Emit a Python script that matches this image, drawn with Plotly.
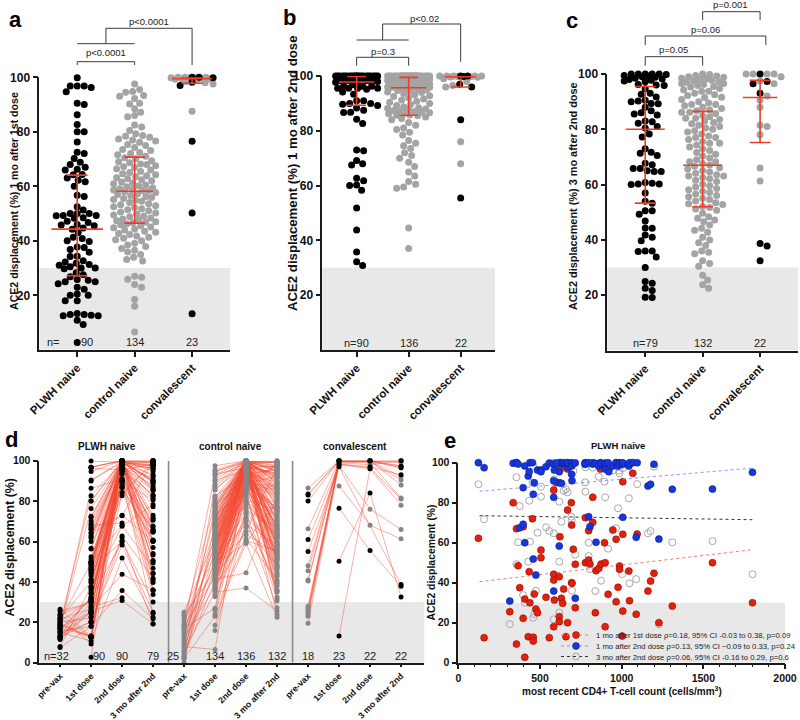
import math
import plotly.graph_objects as go

# ------------------------------------------------------------------ data
GROUPS = ["PLWH naive", "control naive", "convalescent"]
TIMEPOINTS = ["pre-vax", "1st dose", "2nd dose", "3 mo after 2nd"]

# PLWH naive participants: CD4 count and ACE2 displacement (%) at each time point
plwh_cd4 = [123, 158, 315, 336, 356, 356, 366, 376, 397, 397, 407, 407, 428, 434, 438, 454, 459, 459, 465, 475,
            485, 506, 506, 537, 557, 584, 584, 584, 584, 588, 618, 618, 618, 622, 624, 631, 639, 645, 659, 669,
            669, 669, 692, 694, 694, 696, 704, 716, 716, 776, 778, 778, 798, 798, 806, 823, 823, 839, 843, 860,
            870, 874, 895, 899, 899, 917, 921, 946, 966, 966, 978, 987, 987, 1003, 1007, 1007, 1007, 1044, 1048, 1068,
            1089, 1095, 1161, 1177, 1198, 1228, 1310, 1556, 1801, 600]
plwh_v1 = [62.2, 12.5, 25.5, 80, 67, 9.3, 48.5, 37.5, 68, 22.2, 31.8, 2.7, 13, 45.5, 30, 72, 12.7, 10.8, 34.3, 26.8,
           25, 56.3, 52.5, 32.7, 12.5, 86.3, 44.2, 41.3, 18, 31.3, 43, 23, 20.5, 63, 96.8, 32.2, 29.7, 36.8, 13, 20,
           76.3, 96.8, 80, 68.8, 40, 39.7, 56.7, 49.2, 27.5, 99.8, 72.5, 50, 51.3, 66, 49.3, 82.7, 70.2, 25, 46, 47.2,
           96.8, 49.3, 60, 50, 18, 34.2, 96.3, 66.3, 61.7, 30.5, 37.7, 48.3, 46.7, 13.3, 64.2, 90.5, 25.8, 45.8, 31, 94.7,
           24.2, 64.3, 35.8, 40.8, 44.7, 20, 28.3, 50, 30, 90]
plwh_v2 = [100, 97.5, 30.8, 99.7, 100, 100, 99.3, 67.5, 69.2, 87.5, 60, 98.3, 93.3, 95.5, 100, 100, 84.2, 51.8, 90, 43.8,
           96.3, 96.3, 95.5, 98, 99.8, 91, 82.7, 99.3, 35.8, 96.3, 95.5, 90, 58.3, 100, 100, 89.7, 99.5, 100, 99.7, 97.7,
           99.7, 100, 100, 98.3, 94.2, 91, 99.6, 99.9, 32.2, 99.2, 100, 99.4, 100, 73, 68, 99.3, 100, 99.7, 60.2, 98.3,
           100, 99.5, 99.2, 96.8, 99.8, 100, 95.5, 98.3, 100, 100, 98.3, 100, 99.6, 99.7, 72.7, 99.2, 99.9, 98.3, 100, 100,
           62.7, 100, 88.3, 89.2, 99.2, 61.8, 86.7, 86.8, 95.2, 99.8]
plwh_v3 = [89.2, 71.7, 19.3, None, 92.7, 49.3, 60.2, 78.3, None, 33.8, 30, None, 50.5, 81, 60.5, 90, 98.5, 22.5, 24.3, 36,
           65, 88, 83, 67.7, 65.8, 64.7, 100, 99.3, 21.7, 91.7, 50.5, 80.5, 25, 99, 100, 70.5, None, 86, 86.7, 85.2,
           98.8, 100, 73, 71.3, None, 36, 95.8, 54, None, 90.2, 85.5, 97.7, 53.3, 60, 46.8, 97.5, 99.5, 35.8, None, 93,
           100, 41, 90.5, 82.7, None, 57, 98.2, 96.2, 67.2, None, 77.2, 94.7, 96, 44.3, 99.8, 97.2, None, 82.2, 39.7, 100,
           41.8, 89.3, 64.7, 65.8, 98, 19.2, 60.2, 60.8, 44.2, None]
plwh_pre_ids = [1, 2, 5, 7, 9, 10, 12, 14, 16, 17, 19, 20, 23, 24, 25, 28, 29, 32, 35, 36, 38, 39, 40, 44, 48, 55,
                57, 61, 64, 69, 73, 76]
plwh_pre = [18.5, 13, 22.5, 8, 20, 16.5, 26.5, 12.5, 19, 15, 21.5, 17.5, 13.5, 24, 18, 7.5,
            20.5, 12.5, 16, 25.5, 19.5, 14.5, 17, 22, 13, 18.5, 11.5, 21, 15.5, 23.5, 17, 12]

# control naive participants
ctrl_v1 = [97.5, 95.5, 94.8, 94.5, 93.3, 93, 92.2, 90.5, 90.2, 88.5, 87.2, 86, 85.5, 82.5, 81.8, 80.5, 79.3, 78.6, 78.4, 78,
           77.4, 77, 76.6, 76.2, 75.3, 75, 74.2, 73.5, 73.1, 72.4, 72, 71.6, 71, None,
           70.5, 70.1, 69.4, 69, 68.6, 68.2, 68, 67.5, 67.2, 66.9, 66.4, 66, 65.4, 65.1, 64.6, 64.2, 63.9, 63.5, 63.1, 62.8,
           62.4, 62, 61.6, 61.2, 60.9, 60.5, 60.1, 59.8, 59.5, 59.1, 58.8, 58.6, 58.4, 58.3,
           58, 57.7, 57.3, 57, 56.6, 56.2, 55.9, 55.5, 55.2, 54.9, 54.5, 54.1, 53.6, 53.2, 52.9, 52.5, 52.2, 51.8, 51.4, 51,
           50.6, 50.2, 49.8, 49.5, 49.1, 48.8, 48.4, 48, 47.7, 47.4, 47, 46.8, 46.6, None,
           46.2, 45.9, 45.5, 45.1, 44.8, 44.3, 44, 43.5, 43.1, 42.7, 42.3, 41.8, 41.3, 40.9, 40.4, 40, 39.1, 38.5, 37.9, 37.2,
           36.5, 35.9, 35, 34, 33.1, 32.6, 27, 26.6, 25.9, 24, 23, 18.5, 16, 6.5]
ctrl_v2 = [100, 100, 99.2, 100, 96.5, 100, 98.8, 100, 95.5, 100, 100, 97.8, 100, 92.8, 100, 99.8, 98.5, 100, 88.8, 100,
           96.9, 100, 99.4, 100, 94.4, 100, 97.4, 100, 85.5, 99.6, 100, 96.1, 100, 98.2,
           100, 99.1, 100, 93.6, 96.8, 100, 90.4, 99.7, 97.2, 100, 86.8, 98.6, 100, 95.9, 100, 91.6, 96.3, 100, 82, 99.3,
           100, 87.4, 97.5, 100, 78.5, 99, 96, 100, 94, 95.8, 100, 89.2, 99.6, 86.2,
           100, 97, 95.7, 92, 98.4, 84.5, 96.6, 88, 99, 95.9, 73.5, 97.7, 91.2, 96.2, 87.8, 68.5, 98, 95.8, 86.6, 80.5,
           96.4, 89.6, 95.2, 63.5, 85.8, 96, 59.5, 100, 93.2, 87, 99.8, 90.8, 76.5, 95.7,
           99.5, 95, 87.2, 79.5, 94.7, 85.7, 72, 98, 90, 65, 97, 83, 44.5, 92.5, 88.4, 71, 96.9, 84, 61.5, 99.2,
           86.4, 74.5, 37, 94.2, 81, 67, 96.6, 88.2, 60.5, 85, 59, 75.5, 70, 96.2]
ctrl_v3 = [98.8, 86.2, 99.5, 77, 93.8, 69.6, 96.6, None, 84, 90, 97.7, 61.6, 88.5, 75, 95.3, 82.5, 100, 56.6, 92.2, 80,
           66.6, 99, 73.6, 87, 54.1, 94.3, 79.5, 63.1, 98.2, 48.4, 85, 71, 91.5, 58.6,
           97.2, 83.5, 64.6, 95.8, 51.2, 89.5, 76.3, 99.8, 60.1, 81.5, 45.4, 93, 70.3, 86.7, 57.1, None, 97.5, 66.1, 42.8, 84.5,
           74.3, 98.5, 52.8, 89, 62.6, 38, 81, 96.2, 67.6, 55.6, 77.6, 47.2, 90.8, 59.6,
           94.8, 65.6, 85.7, 53.4, 99.3, 72.3, 44.2, 88, 61.1, 79, 36, 96.6, 68.3, 50.7, 83, 58.1, 92.5, None, 63.6, 75.6,
           46.6, 98, 71.6, 54.6, 87.5, 40, 80.5, 57.6, 95.5, 65.1, 31.5, 84, 52.1, 69,
           91.6, 49.6, 78.3, 62.1, 35, 86.2, 56.1, 73, 43.5, 97, 64.1, 30.5, 82, 51.7, 68.3, 27.2, 93.8, 59.1, 41, None,
           77, 53.1, 25.5, 89, 63.1, 47.8, 35.5, 75, 55.1, 23.8, 22.5, 67.1, 39, 32.5]
ctrl_pre_ids = [4, 10, 16, 22, 28, 38, 44, 50, 56, 62, 68, 74, 80, 86, 92, 98, 104, 108, 112, 116, 120, 124, 128, 132, 135]
ctrl_pre = [17.5, 3, 22, 9, 14, 0, 19, 5.5, 25, 11.5, 16, 2.5, 20.5, 7, 15, 4.5, 23.5, 10.5, 18.5, 3.5, 12.5, 6, 17, 2, 8]

# convalescent participants (1 = living with HIV, drawn black; 0 = control, drawn grey)
conv_plwh = [1, 1, 1, 1, 1, 1, 1, 1, 0, 0, 0, 0, 0, 0, 0, 0, 0, 0, 0, 0, 0, 0, 0]
conv_pre = [83.5, 83, 80, 61, 55, None, None, None, 86.5, 66.3, 48, 45.5, 41, 40.5, 28, 27, 26, 25, 24, 23, 19.5, None, None]
conv_v1 = [100, 100, 99.8, 98.2, 97, 76.5, 50.2, 13.2, 100, 100, 100, 99.8, 99.8, 99.7, 99.6, 99.5, 99.5, 99.3, 99, 98.5, 98, 97.5, 87.5]
conv_v2 = [100, 99.8, 100, 97, None, 55.5, 84, 96, 100, 100, 99.8, 100, 99.7, 100, 99.6, 99.5, 100, 99, 98, 96.5, 96, 76, 68]
conv_v3 = [100, 97.3, 96.5, 93, 38.7, 37.8, 32.5, None, 100, 99, 97.5, 100, 96.5, 92, 100, 90.5, 88, 81.5, 100, 81, 78, 66, 61.3]

# medians and interquartile ranges shown in panels a-c (PLWH, control, convalescent)
med_a, q1_a, q3_a = [44.3, 58.2, 99.5], [27.2, 46.5, 97.8], [64.1, 70.7, 100.0]
med_b, q1_b, q3_b = [97.8, 95.7, 99.7], [89.3, 85.7, 96.0], [99.8, 99.5, 100.0]
med_c, q1_c, q3_c = [80.0, 67.0, 91.5], [53.3, 52.0, 75.2], [95.5, 86.5, 97.7]

n_a = ["90", "134", "23"]
n_b = ["n=90", "136", "22"]
n_c = ["n=79", "132", "22"]
n_d = ["n=32", "90", "90", "79", "25", "134", "136", "132", "18", "23", "22", "22"]

p_a = ["p<0.0001", "p<0.0001"]
p_b = ["p=0.3", "p<0.02"]
p_c = ["p=0.05", "p=0.06", "p=0.001"]

# regression lines of panel e (CD4 count at both ends, fitted displacement)
fit_cd4 = [130, 1800]
fit_v1 = [40.5, 56.5]
fit_v2 = [85.7, 97.3]
fit_v3 = [73.5, 71.5]
legend_e = ["1 mo after 1st dose \u03c1=0.18, 95% CI -0.03 to 0.38, p=0.09",
            "1 mo after 2nd dose \u03c1=0.13, 95% CI \u22120.09 to 0.33, p=0.24",
            "3 mo after 2nd dose \u03c1=0.06, 95% CI -0.16 to 0.29, p=0.6"]

# ------------------------------------------------------------------ style / layout
W, H = 800, 720
FONT = "Liberation Sans, Arial, Helvetica, sans-serif"
AX = "#1a1a1a"
RED = "#ee3d26"
GREY = "#a4a4a4"
GREY_D = "#868686"
SHADE = "#e8e8e8"
BR = "#3a3a3a"

P = {
    "a": dict(x=(39.3, 230.0), y=(77.3, 349.8), xr=(-0.66, 2.66), ax=""),
    "b": dict(x=(322.3, 495.0), y=(76.0, 350.0), xr=(-0.66, 2.66), ax="2"),
    "c": dict(x=(607.3, 798.0), y=(74.0, 350.5), xr=(-0.66, 2.66), ax="3"),
    "d": dict(x=(39.3, 424.3), y=(460.7, 662.7), xr=(-0.67, 11.75), ax="4"),
    "e": dict(x=(458.3, 785.0), y=(462.7, 662.7), xr=(0, 2000), ax="5"),
}


def cat_px(p, c):
    x0, x1 = P[p]["x"]
    r0, r1 = P[p]["xr"]
    return x0 + (c - r0) / (r1 - r0) * (x1 - x0)


def swarm(vals, p, diam=6.8, maxhalf=21.0, step=1.0):
    x0, x1 = P[p]["x"]
    y0, y1 = P[p]["y"]
    r0, r1 = P[p]["xr"]
    pxc = (x1 - x0) / (r1 - r0)
    pyu = (y1 - y0) / 100.0
    cands = [0.0]
    k = 1
    while k * step <= maxhalf:
        cands += [k * step, -k * step]
        k += 1
    order = sorted(range(len(vals)), key=lambda i: -vals[i])
    placed = []
    offs = [0.0] * len(vals)
    for i in order:
        y = vals[i] * pyu
        near = [(a, b) for a, b in placed if abs(b - y) < diam]
        chosen, best, bx = None, -1.0, 0.0
        for c in cands:
            md = min((math.hypot(c - a, y - b) for a, b in near), default=1e9)
            if md >= diam:
                chosen = c
                break
            if md > best + 1e-9:
                best, bx = md, c
        if chosen is None:
            chosen = bx
        placed.append((chosen, y))
        offs[i] = chosen / pxc
    return offs


def clean(v):
    return [x for x in v if x is not None]


fig = go.Figure()


def add_dot_panel(p, cols, cols_flags, med, q1, q3, mhalf):
    ax = P[p]["ax"]
    xa, ya = "x" + ax, "y" + ax
    for g in range(3):
        vals = clean(cols[g])
        flags = cols_flags[g]
        offs = swarm(vals, p)
        if flags is None:
            color = "#000000" if g == 0 else GREY
            fig.add_trace(go.Scatter(x=[g + o for o in offs], y=vals, mode="markers", xaxis=xa, yaxis=ya,
                                     marker=dict(size=7, color=color, line=dict(width=0)),
                                     showlegend=False, hoverinfo="skip", cliponaxis=False))
        else:
            for fl, color in ((0, GREY), (1, "#000000")):
                xs = [g + o for o, f in zip(offs, flags) if f == fl]
                ys = [v for v, f in zip(vals, flags) if f == fl]
                fig.add_trace(go.Scatter(x=xs, y=ys, mode="markers", xaxis=xa, yaxis=ya,
                                         marker=dict(size=7, color=color, line=dict(width=0)),
                                         showlegend=False, hoverinfo="skip", cliponaxis=False))
    ex, ey = [], []
    for g in range(3):
        h = mhalf[g]
        ex += [g, g, None, g - h, g + h, None, g - 0.18, g + 0.18, None, g - 0.18, g + 0.18, None]
        ey += [q1[g], q3[g], None, med[g], med[g], None, q1[g], q1[g], None, q3[g], q3[g], None]
    fig.add_trace(go.Scatter(x=ex, y=ey, mode="lines", xaxis=xa, yaxis=ya,
                             line=dict(color=RED, width=1.6), showlegend=False, hoverinfo="skip",
                             cliponaxis=False))


def conv_flags(col):
    return [f for v, f in zip(col, conv_plwh) if v is not None]


add_dot_panel("a", [plwh_v1, ctrl_v1, conv_v1], [None, None, conv_flags(conv_v1)], med_a, q1_a, q3_a, [0.45, 0.32, 0.35])
add_dot_panel("b", [plwh_v2, ctrl_v2, conv_v2], [None, None, conv_flags(conv_v2)], med_b, q1_b, q3_b, [0.34, 0.34, 0.3])
add_dot_panel("c", [plwh_v3, ctrl_v3, conv_v3], [None, None, conv_flags(conv_v3)], med_c, q1_c, q3_c, [0.34, 0.34, 0.3])

# ---- panel d : paired lines
def expand(ids, vals, n):
    out = [None] * n
    for i, v in zip(ids, vals):
        out[i] = v
    return out


plwh_pre_full = expand(plwh_pre_ids, plwh_pre, len(plwh_v1))
ctrl_pre_full = expand(ctrl_pre_ids, ctrl_pre, len(ctrl_v1))
d_groups = [
    ([plwh_pre_full, plwh_v1, plwh_v2, plwh_v3], None),
    ([ctrl_pre_full, ctrl_v1, ctrl_v2, ctrl_v3], None),
    ([conv_pre, conv_v1, conv_v2, conv_v3], conv_plwh),
]
for g, (cols, flags) in enumerate(d_groups):
    lx, ly = [], []
    for i in range(len(cols[1])):
        pts = [(4 * g + t, cols[t][i]) for t in range(4) if cols[t][i] is not None]
        if len(pts) >= 2:
            lx += [q[0] for q in pts] + [None]
            ly += [q[1] for q in pts] + [None]
    fig.add_trace(go.Scatter(x=lx, y=ly, mode="lines", xaxis="x4", yaxis="y4",
                             line=dict(color="rgba(244,72,48,0.55)", width=0.8),
                             showlegend=False, hoverinfo="skip"))
for g, (cols, flags) in enumerate(d_groups):
    for t in range(4):
        if flags is None:
            ys = clean(cols[t])
            color = "#000000" if g == 0 else GREY_D
            fig.add_trace(go.Scatter(x=[4 * g + t] * len(ys), y=ys, mode="markers", xaxis="x4", yaxis="y4",
                                     marker=dict(size=5, color=color), showlegend=False,
                                     hoverinfo="skip", cliponaxis=False))
        else:
            for fl, color in ((0, GREY_D), (1, "#000000")):
                ys = [v for v, f in zip(cols[t], flags) if v is not None and f == fl]
                fig.add_trace(go.Scatter(x=[4 * g + t] * len(ys), y=ys, mode="markers", xaxis="x4", yaxis="y4",
                                         marker=dict(size=5, color=color), showlegend=False,
                                         hoverinfo="skip", cliponaxis=False))

# ---- panel e : scatter vs CD4 with regression lines
def pts_fit(xs, ys, fx, fy, size):
    X, Y, S = [], [], []
    for x, y in zip(xs, ys):
        if y is None:
            continue
        X += [x, None]
        Y += [y, None]
        S += [size, size]
    X += fx
    Y += fy
    S += [0, 0]
    return X, Y, S


X3, Y3, S3 = pts_fit(plwh_cd4, plwh_v3, fit_cd4, fit_v3, 7)
fig.add_trace(go.Scatter(x=X3, y=Y3, mode="lines+markers", xaxis="x5", yaxis="y5", name=legend_e[2],
                         legend="legend3", connectgaps=False,
                         line=dict(color="#333333", width=1, dash="dot"),
                         marker=dict(size=S3, symbol="circle-open", color="#a8a8a8", opacity=1, line=dict(width=1)),
                         hoverinfo="skip", cliponaxis=False))
X1, Y1, S1 = pts_fit(plwh_cd4, plwh_v1, fit_cd4, fit_v1, 7)
fig.add_trace(go.Scatter(x=X1, y=Y1, mode="lines+markers", xaxis="x5", yaxis="y5", name=legend_e[0],
                         legend="legend", connectgaps=False,
                         line=dict(color="#f47a6a", width=1, dash="dot"),
                         marker=dict(size=S1, color="#e3200c", opacity=1, line=dict(color="#8a1006", width=0.6)),
                         hoverinfo="skip", cliponaxis=False))
X2, Y2, S2 = pts_fit(plwh_cd4, plwh_v2, fit_cd4, fit_v2, 7)
fig.add_trace(go.Scatter(x=X2, y=Y2, mode="lines+markers", xaxis="x5", yaxis="y5", name=legend_e[1],
                         legend="legend2", connectgaps=False,
                         line=dict(color="#7d9bff", width=1, dash="dot"),
                         marker=dict(size=S2, color="#1636e0", opacity=1, line=dict(color="#0a1f8a", width=0.6)),
                         hoverinfo="skip", cliponaxis=False))

# ------------------------------------------------------------------ axes
def dom_x(p):
    return [P[p]["x"][0] / W, P[p]["x"][1] / W]


def dom_y(p):
    return [1 - P[p]["y"][1] / H, 1 - P[p]["y"][0] / H]


def base_axis(**kw):
    d = dict(showline=True, linecolor=AX, linewidth=1.6, ticks="outside", ticklen=5, tickwidth=1.5,
             tickcolor=AX, showgrid=False, zeroline=False, fixedrange=True, automargin=False)
    d.update(kw)
    return d


lay = {}
for p, tfs, cfs in (("a", 12, 11.5), ("b", 12, 11.5), ("c", 12, 11.5)):
    ax = P[p]["ax"]
    lay["xaxis" + ax] = base_axis(domain=dom_x(p), range=list(P[p]["xr"]), anchor="y" + ax,
                                  tickvals=[0, 1, 2], ticktext=GROUPS, tickangle=-45,
                                  tickfont=dict(family=FONT, size=cfs, color="#111", weight="bold"))
    lay["yaxis" + ax] = base_axis(domain=dom_y(p), range=[0, 100], anchor="x" + ax,
                                  tickvals=[20, 40, 60, 80, 100],
                                  tickfont=dict(family=FONT, size=tfs, color="#111", weight="bold"))
lay["xaxis4"] = base_axis(domain=dom_x("d"), range=list(P["d"]["xr"]), anchor="y4", ticklen=3,
                          tickvals=list(range(12)), ticktext=TIMEPOINTS * 3, tickangle=-45, linewidth=1.5,
                          tickfont=dict(family=FONT, size=8.8, color="#111", weight="bold"))
lay["yaxis4"] = base_axis(domain=dom_y("d"), range=[0, 100], anchor="x4", tickvals=[0, 20, 40, 60, 80, 100],
                          linewidth=1.5, tickfont=dict(family=FONT, size=10.5, color="#111", weight="bold"))
lay["xaxis5"] = base_axis(domain=dom_x("e"), range=[0, 2000], anchor="y5", tickvals=[0, 500, 1000, 1500, 2000],
                          linewidth=1.5, tickfont=dict(family=FONT, size=10.5, color="#111", weight="bold"),
                          minor=dict(dtick=100, ticklen=3, ticks="outside", tickcolor=AX, tickwidth=1))
lay["yaxis5"] = base_axis(domain=dom_y("e"), range=[0, 100], anchor="x5", tickvals=[0, 20, 40, 60, 80, 100],
                          linewidth=1.5, tickfont=dict(family=FONT, size=10.5, color="#111", weight="bold"))

# ------------------------------------------------------------------ shapes
shapes = []
for p in "abcde":
    ax = P[p]["ax"]
    shapes.append(dict(type="rect", xref="x" + ax + " domain", yref="y" + ax, x0=0, x1=1, y0=0, y1=30,
                       fillcolor=SHADE, line=dict(width=0), layer="below"))
for xs in (3.5, 7.5):
    shapes.append(dict(type="line", xref="x4", yref="y4", x0=xs, x1=xs, y0=0, y1=100,
                       line=dict(color="#8c8c8c", width=1.6), layer="below"))


def seg(xa, ya, xb, yb):
    shapes.append(dict(type="line", xref="paper", yref="paper", x0=xa / W, y0=1 - ya / H, x1=xb / W, y1=1 - yb / H,
                       line=dict(color=BR, width=1)))


def bracket(p, c0, c1, ybar, yleg):
    a, b = cat_px(p, c0), cat_px(p, c1)
    seg(a, yleg, a, ybar)
    seg(a, ybar, b, ybar)
    seg(b, ybar, b, yleg)


anns = []


def txt(x, y, s, size, bold=False, angle=0, color="#111", anchor="center"):
    anns.append(dict(x=x / W, y=1 - y / H, xref="paper", yref="paper", text=s, showarrow=False,
                     xanchor=anchor, yanchor="middle", textangle=angle,
                     font=dict(family=FONT, size=size, color=color, weight="bold" if bold else "normal")))


# panel a brackets
bracket("a", 0, 1, 61.7, 65)
txt(cat_px("a", 0.5), 53, p_a[0], 9.5, color="#222")
seg(cat_px("a", 0), 43.7, cat_px("a", 1), 43.7)
seg(cat_px("a", 0.5), 43.7, cat_px("a", 0.5), 28.3)
seg(cat_px("a", 0.5), 28.3, cat_px("a", 2), 28.3)
seg(cat_px("a", 2), 28.3, cat_px("a", 2), 65)
txt(cat_px("a", 1.25), 21.7, p_a[1], 9.5, color="#222")
# panel b brackets
bracket("b", 0, 1, 57.3, 65.7)
txt(cat_px("b", 0.5), 51.7, p_b[0], 9.5, color="#222")
seg(cat_px("b", 0), 40, cat_px("b", 1), 40)
seg(cat_px("b", 0.5), 40, cat_px("b", 0.5), 24)
seg(cat_px("b", 0.5), 24, cat_px("b", 2), 24)
seg(cat_px("b", 2), 24, cat_px("b", 2), 61.7)
txt(cat_px("b", 1.3), 18, p_b[1], 9.5, color="#222")
# panel c brackets
bracket("c", 0, 1, 56.7, 65.7)
txt(cat_px("c", 0.5), 50, p_c[0], 9.5, color="#222")
bracket("c", 0, 2.1, 36, 45)
txt(cat_px("c", 1.05), 30, p_c[1], 9.5, color="#222")
bracket("c", 1, 2, 11.7, 20)
txt(cat_px("c", 1.48), 5, p_c[2], 9.5, color="#222")

# panel letters
for s, x, y in (("a", 15, 19), ("b", 289, 17), ("c", 571.5, 20), ("d", 11, 439), ("e", 450, 440)):
    txt(x, y, s, 22, bold=True, color="#000")

# y axis titles
txt(14, 201, "ACE2 displacement (%) 1 mo after 1st dose", 10.6, bold=True, angle=-90)
txt(292.5, 173.5, "ACE2 displacement (%) 1 mo after 2nd dose", 13.2, bold=True, angle=-90)
txt(572.5, 196.5, "ACE2 displacement (%) 3 mo after 2nd dose", 10.9, bold=True, angle=-90)
txt(9, 547.5, "ACE2 displacement (%)", 12.4, bold=True, angle=-90)
txt(431, 562.5, "ACE2 displacement (%)", 10.4, bold=True, angle=-90)
txt(621.7, 690.5, "most recent CD4+ T-cell count (cells/mm<sup>3</sup>)", 10, bold=True)

# panel d/e titles
for g, name in enumerate(GROUPS):
    txt(cat_px("d", 4 * g + 1.5), 446, name, 10, bold=True)
txt(618, 445, GROUPS[0], 9.5, bold=True)

# n labels
def ntxt(p, c, s, yv=3.0):
    ax = P[p]["ax"]
    anns.append(dict(x=c, y=yv, xref="x" + ax, yref="y" + ax, text=s, showarrow=False,
                     xanchor="center", yanchor="middle",
                     font=dict(family=FONT, size=11, color="#222")))


ntxt("a", -0.42, "n=")
ntxt("a", 0.17, n_a[0])
ntxt("a", 1, n_a[1])
ntxt("a", 2, n_a[2])
for g in range(3):
    ntxt("b", g, n_b[g], 2.7)
    ntxt("c", g, n_c[g], 2.7)
d_pos = [-0.1, 1.26, 2, 3, 3.65, 5, 6, 7, 8, 9, 10, 11]
for c, s in zip(d_pos, n_d):
    ntxt("d", c, s, 3.3)


def leg(yc):
    return dict(x=556 / W, xanchor="left", y=1 - yc / H, yanchor="middle",
                bgcolor="rgba(0,0,0,0)", borderwidth=0, itemwidth=30,
                font=dict(family=FONT, size=7.7, color="#222"))


fig.update_layout(
    template="none",
    width=W, height=H, margin=dict(l=0, r=0, t=0, b=0, autoexpand=False),
    paper_bgcolor="white", plot_bgcolor="rgba(0,0,0,0)",
    font=dict(family=FONT, color="#111"),
    shapes=shapes, annotations=anns,
    showlegend=True,
    legend=leg(635), legend2=leg(646), legend3=leg(656.5),
    **lay,
)

fig.write_html("out.html", config={"displayModeBar": False},
               post_script="document.body.style.margin='0';document.body.style.overflow='hidden';")
